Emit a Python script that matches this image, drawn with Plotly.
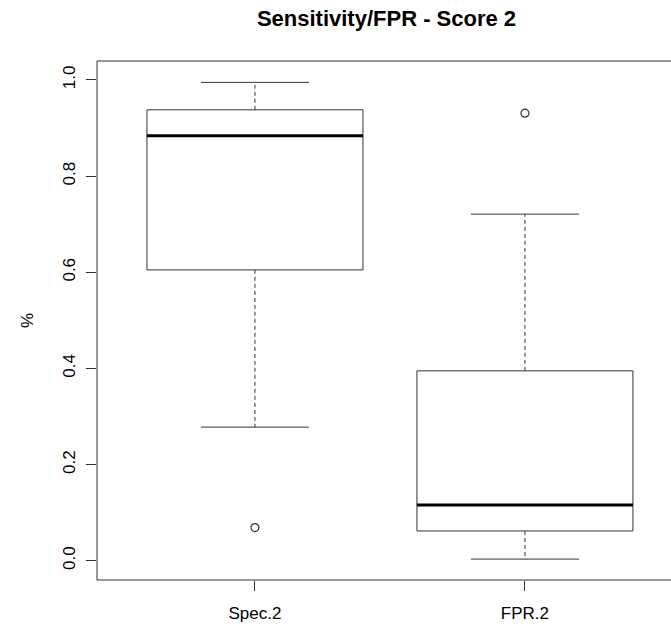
import plotly.graph_objects as go

# ---- data ----
categories = ["Spec.2", "FPR.2"]
positions = [1, 2]
lower_whisker = [0.278, 0.0035]
q1 = [0.605, 0.062]
median = [0.884, 0.116]
q3 = [0.938, 0.395]
upper_whisker = [0.995, 0.721]
outliers = [[0.069], [0.931]]
y_ticks = [0.0, 0.2, 0.4, 0.6, 0.8, 1.0]

BOX_HALF = 0.4
CAP_HALF = 0.2
LINE = "#333333"

fig = go.Figure()
for p, lw, a, m, b, uw, outs in zip(positions, lower_whisker, q1, median, q3, upper_whisker, outliers):
    # box
    fig.add_trace(go.Scatter(x=[p - BOX_HALF, p + BOX_HALF, p + BOX_HALF, p - BOX_HALF, p - BOX_HALF],
                             y=[a, a, b, b, a], mode="lines",
                             line=dict(color=LINE, width=1), hoverinfo="skip"))
    # whiskers (dashed)
    fig.add_trace(go.Scatter(x=[p, p], y=[b, uw], mode="lines",
                             line=dict(color=LINE, width=1, dash="4px,3px"), hoverinfo="skip"))
    fig.add_trace(go.Scatter(x=[p, p], y=[a, lw], mode="lines",
                             line=dict(color=LINE, width=1, dash="4px,3px"), hoverinfo="skip"))
    # staples
    fig.add_trace(go.Scatter(x=[p - CAP_HALF, p + CAP_HALF], y=[uw, uw], mode="lines",
                             line=dict(color=LINE, width=1), hoverinfo="skip"))
    fig.add_trace(go.Scatter(x=[p - CAP_HALF, p + CAP_HALF], y=[lw, lw], mode="lines",
                             line=dict(color=LINE, width=1), hoverinfo="skip"))
    # median
    fig.add_trace(go.Scatter(x=[p - BOX_HALF, p + BOX_HALF], y=[m, m], mode="lines",
                             line=dict(color="#000000", width=3), hoverinfo="skip"))
    # outliers
    fig.add_trace(go.Scatter(x=[p] * len(outs), y=outs, mode="markers",
                             marker=dict(symbol="circle-open", size=8, color=LINE,
                                         line=dict(width=1.2, color=LINE)),
                             hoverinfo="skip"))

FONT = "Liberation Sans, Arial, Helvetica, sans-serif"

frame = dict(type="line", xref="paper", yref="paper", line=dict(color=LINE, width=1))

fig.update_layout(
    width=671, height=626,
    margin=dict(l=97, r=0, t=61, b=46),
    paper_bgcolor="white", plot_bgcolor="white",
    showlegend=False,
    font=dict(family=FONT, size=17, color="#000000"),
    title=dict(text="<b>Sensitivity/FPR - Score 2</b>", x=0.576, xanchor="center",
               y=0.971, yanchor="middle", font=dict(family=FONT, size=22, color="#000000")),
    xaxis=dict(range=[0.415, 2.541], tickmode="array", tickvals=positions, ticktext=categories,
               ticks="outside", ticklen=10, tickcolor=LINE, showgrid=False, zeroline=False,
               showline=False, ticklabelstandoff=8),
    yaxis=dict(range=[-0.04, 1.0395], tickmode="array", tickvals=y_ticks, tickformat=".1f",
               tickangle=-90, ticks="outside", ticklen=10, tickcolor=LINE, showgrid=False,
               zeroline=False, showline=False, ticklabelstandoff=4,
               title=dict(text="%", standoff=22, font=dict(size=17))),
    shapes=[
        dict(frame, x0=0, x1=1, y0=1, y1=1),
        dict(frame, x0=0, x1=1, y0=0, y1=0),
        dict(frame, x0=0, x1=0, y0=0, y1=1),
    ],
)

fig.write_html("out.html",
               config={"displayModeBar": False},
               post_script="document.body.style.margin='0';document.body.style.overflow='hidden';")
